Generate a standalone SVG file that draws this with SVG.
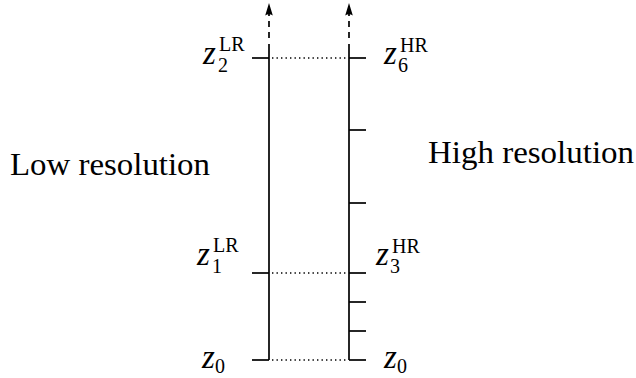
<svg xmlns="http://www.w3.org/2000/svg" width="636" height="378" viewBox="0 0 636 378">
<style>
.ax{stroke:#000;stroke-width:1.7;fill:none}
.tick{stroke:#000;stroke-width:1.7;fill:none}
.dash{stroke:#000;stroke-width:1.7;fill:none;stroke-dasharray:6 5}
.dot{stroke:#000;stroke-width:1.4;fill:none;stroke-dasharray:1.4 3.1}
.head{fill:#000;stroke:none}
.z{font-family:"Liberation Serif","DejaVu Serif",serif;font-style:italic;font-size:33px;fill:#000}
.s{font-family:"Liberation Serif","DejaVu Serif",serif;font-size:20px;fill:#000}
.t{font-family:"Liberation Serif","DejaVu Serif",serif;font-size:32px;fill:#000}
</style>
<rect width="636" height="378" fill="#fff"/>
<g id="lr-axis">
  <line class="ax" x1="269" y1="360" x2="269" y2="44"/>
  <line class="dash" x1="269" y1="38" x2="269" y2="13"/>
  <path class="head" d="M269 3 L272.8 15.5 Q269 13 265.2 15.5 Z"/>
  <line class="tick" x1="252" y1="360" x2="269" y2="360"/>
  <line class="tick" x1="252" y1="273" x2="269" y2="273"/>
  <line class="tick" x1="252" y1="58" x2="269" y2="58"/>
</g>
<g id="hr-axis">
  <line class="ax" x1="349" y1="360" x2="349" y2="44"/>
  <line class="dash" x1="349" y1="38" x2="349" y2="13"/>
  <path class="head" d="M349 3 L352.8 15.5 Q349 13 345.2 15.5 Z"/>
  <line class="tick" x1="349" y1="360" x2="366" y2="360"/>
  <line class="tick" x1="349" y1="331" x2="366" y2="331"/>
  <line class="tick" x1="349" y1="302" x2="366" y2="302"/>
  <line class="tick" x1="349" y1="273" x2="366" y2="273"/>
  <line class="tick" x1="349" y1="203" x2="366" y2="203"/>
  <line class="tick" x1="349" y1="130" x2="366" y2="130"/>
  <line class="tick" x1="349" y1="58" x2="366" y2="58"/>
</g>
<g id="connectors">
  <line class="dot" x1="272" y1="360" x2="347" y2="360"/>
  <line class="dot" x1="272" y1="273" x2="347" y2="273"/>
  <line class="dot" x1="272" y1="58" x2="347" y2="58"/>
</g>
<g id="label-low">
  <text class="t" x="10" y="175" textLength="200" lengthAdjust="spacingAndGlyphs">Low resolution</text>
</g>
<g id="label-high">
  <text class="t" x="428" y="163" textLength="206" lengthAdjust="spacingAndGlyphs">High resolution</text>
</g>
<g id="z2-lr">
  <text class="z" x="203" y="64">z</text>
  <text class="s" x="219" y="51">LR</text>
  <text class="s" x="218" y="72">2</text>
</g>
<g id="z1-lr">
  <text class="z" x="197" y="265">z</text>
  <text class="s" x="213" y="252">LR</text>
  <text class="s" x="212" y="273">1</text>
</g>
<g id="z0-left">
  <text class="z" x="202" y="368">z</text>
  <text class="s" x="215" y="373">0</text>
</g>
<g id="z6-hr">
  <text class="z" x="384" y="64">z</text>
  <text class="s" x="400" y="52">HR</text>
  <text class="s" x="398" y="72">6</text>
</g>
<g id="z3-hr">
  <text class="z" x="376" y="265">z</text>
  <text class="s" x="392" y="253">HR</text>
  <text class="s" x="390" y="273">3</text>
</g>
<g id="z0-right">
  <text class="z" x="384" y="368">z</text>
  <text class="s" x="397" y="373">0</text>
</g>
</svg>
